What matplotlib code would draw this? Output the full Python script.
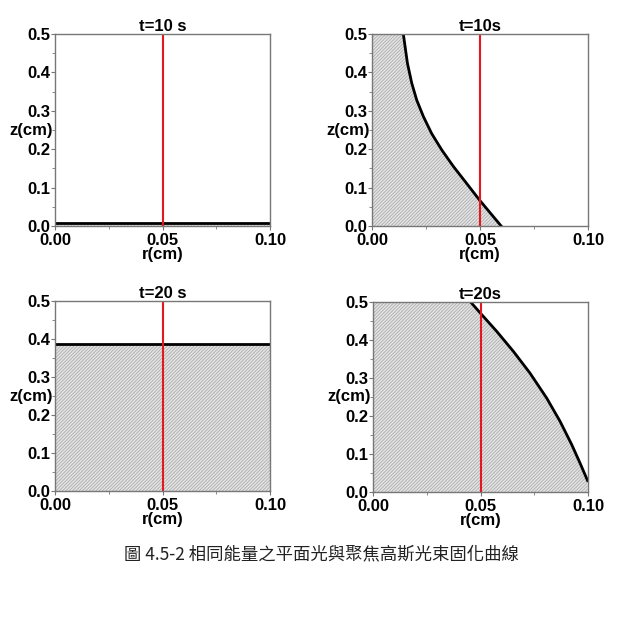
import numpy as np
import matplotlib
matplotlib.use('Agg')
import matplotlib.pyplot as plt
from matplotlib.ticker import MultipleLocator, FormatStrFormatter

plt.rcParams['font.family'] = ['Liberation Sans', 'DejaVu Sans']
plt.rcParams['hatch.linewidth'] = 0.5

# cured depth, flat beam (horizontal front)
flat_depth = {'t=10 s': 0.008, 't=20 s': 0.388}

# cured profile, focused gaussian beam (r, z)
g10_r = [0.0145, 0.0164, 0.0184, 0.0207, 0.0238, 0.0276, 0.0323, 0.0377, 0.0438, 0.0500, 0.0598]
g10_z = [0.500, 0.424, 0.372, 0.328, 0.285, 0.241, 0.198, 0.155, 0.111, 0.066, 0.0]
g20_r = [0.0454, 0.0499, 0.0575, 0.0653, 0.0730, 0.0808, 0.0870, 0.0924, 0.0963, 0.0998]
g20_z = [0.500, 0.471, 0.423, 0.370, 0.313, 0.247, 0.186, 0.125, 0.076, 0.030]

beam_r = 0.05
caption = '圖 4.5-2 相同能量之平面光與聚焦高斯光束固化曲線'

fig = plt.figure(figsize=(6.42, 6.17), dpi=100)

boxes = [
    [55/642, 1-226/617, 215/642, 192/617],
    [372/642, 1-226/617, 216/642, 192/617],
    [55/642, 1-491/617, 215/642, 190/617],
    [373/642, 1-492/617, 215/642, 190/617],
]
titles = ['t=10 s', 't=10s', 't=20 s', 't=20s']

hatch_kw = dict(facecolor='#e2e2e2', edgecolor='#a6a6a6', hatch='//////////', linewidth=0)


def style(ax, title):
    ax.set_xlim(0, 0.1)
    ax.set_ylim(0, 0.5)
    ax.xaxis.set_major_locator(MultipleLocator(0.05))
    ax.xaxis.set_minor_locator(MultipleLocator(0.025))
    ax.yaxis.set_major_locator(MultipleLocator(0.1))
    ax.yaxis.set_minor_locator(MultipleLocator(0.05))
    ax.xaxis.set_major_formatter(FormatStrFormatter('%.2f'))
    ax.yaxis.set_major_formatter(FormatStrFormatter('%.1f'))
    ax.tick_params(which='both', direction='out', color='#777777', labelsize=12)
    ax.tick_params(axis='x', pad=2)
    ax.tick_params(axis='y', pad=0.5)
    ax.tick_params(which='major', length=3)
    ax.tick_params(which='minor', length=2)
    for lab in ax.get_xticklabels() + ax.get_yticklabels():
        lab.set_fontweight('bold')
    for sp in ax.spines.values():
        sp.set_color('#777777')
        sp.set_linewidth(1.0)
    ax.set_title(title, fontsize=12, fontweight='bold', pad=2)
    ax.set_xlabel('r(cm)', fontsize=12, fontweight='bold', labelpad=-1)
    ax.set_ylabel('z(cm)', fontsize=12, fontweight='bold', rotation=0, ha='right', va='center')
    ax.yaxis.set_label_coords(-0.012, 0.5)


axes = [fig.add_axes(b) for b in boxes]

# flat beam panels
for ax, key in [(axes[0], 't=10 s'), (axes[2], 't=20 s')]:
    d = flat_depth[key]
    ax.fill_between([0, 0.1], 0, d, **hatch_kw)
    ax.plot([0, 0.1], [d, d], color='black', lw=2)

# gaussian panels
for ax, rr, zz in [(axes[1], g10_r, g10_z), (axes[3], g20_r, g20_z)]:
    xs = [0.0] + rr
    ys = [zz[0]] + zz
    if zz[-1] > 0:
        xs = xs + [rr[-1], 0.0]
        ys = ys + [0.0, 0.0]
    else:
        xs = xs + [0.0]
        ys = ys + [0.0]
    ax.fill(xs, ys, **hatch_kw)
    ax.plot(rr, zz, color='black', lw=2, solid_joinstyle='round')

for ax, t in zip(axes, titles):
    ax.axvline(beam_r, color='#e8141e', lw=1.5)
    style(ax, t)

fig.text(0.5, 1-554/617, caption, ha='center', va='center', fontsize=12.5,
         family=['Noto Sans CJK TC', 'DejaVu Sans'], color='#222222')

fig.savefig('out.png', dpi=100)
